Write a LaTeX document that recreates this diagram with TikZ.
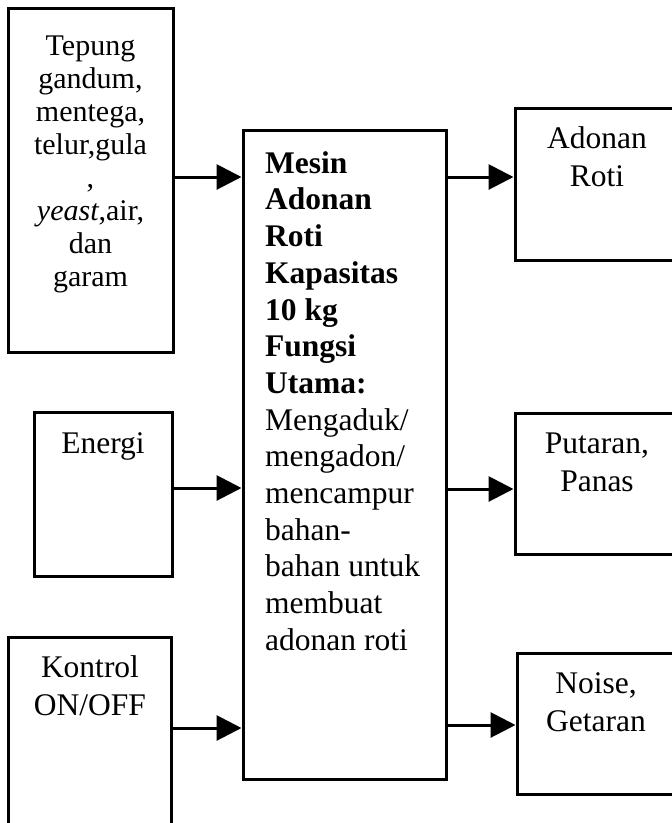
\documentclass[tikz,border=0pt]{standalone}
\usepackage{fontspec}
\setmainfont{Liberation Serif}
\usetikzlibrary{arrows.meta}
\begin{document}
\begin{tikzpicture}[x=1pt,y=-1pt,
  boxw/.style 2 args={draw, line width=3pt, inner sep=0pt, minimum width=#1, minimum height=#2},
  lbl/.style={inner sep=0pt, anchor=north, align=center},
  fA/.style={font=\fontsize{30}{33}\selectfont},
  fB/.style={font=\fontsize{31.5}{38}\selectfont},
  fC/.style={font=\fontsize{31.5}{36.7}\selectfont},
  arr/.style={line width=3pt, -{Triangle[length=25pt,width=25pt]}}]
\useasboundingbox (0,0) rectangle (672,823);
\fill[white] (0,0) rectangle (672,823);
\clip (0,0) rectangle (672,823);
% boxes
\node[boxw={165pt}{344pt}] (L1) at (90.5,180) {};
\node[boxw={138pt}{164pt}] (E) at (103,494) {};
\node[boxw={163pt}{203pt}] (K) at (89.5,738.5) {};
\node[boxw={203pt}{649pt}] (C) at (344.5,454.5) {};
\node[boxw={170pt}{152pt}] (R1) at (600,184) {};
\node[boxw={170pt}{141pt}] (R2) at (600,483.5) {};
\node[boxw={168pt}{141pt}] (R3) at (601,723.5) {};
% texts
\node[lbl,fA] (tL1) at (90.5,31.9) {\strut Tepung\\gandum,\\mentega,\\telur,gula\\,\\\emph{yeast},air,\\dan\\garam};
\node[lbl,fB] (tE) at (103,426.4) {\strut Energi};
\node[lbl,fB] (tK) at (90,650.4) {\strut Kontrol\\ON/OFF};
\node[inner sep=0pt, anchor=north west, align=left, fC] (tC) at (265,147.3) {\strut\textbf{Mesin}\\\textbf{Adonan}\\\textbf{Roti}\\\textbf{Kapasitas}\\\textbf{10 kg}\\\textbf{Fungsi}\\\textbf{Utama:}\\Mengaduk/\\mengadon/\\mencampur\\bahan-\\bahan untuk\\membuat\\adonan roti};
\node[lbl,fB] (tR1) at (597,121.4) {\strut Adonan\\Roti};
\node[lbl,fB] (tR2) at (597,426.4) {\strut Putaran,\\Panas};
\node[lbl,fB] (tR3) at (596,666.4) {\strut Noise,\\Getaran};
% connectors
\draw[arr] (L1.east |- 0,177) -- (C.west |- 0,177);
\draw[arr] (E.east |- 0,488) -- (C.west |- 0,488);
\draw[arr] (K.east |- 0,728) -- (C.west |- 0,728);
\draw[arr] (C.east |- 0,177) -- (R1.west |- 0,177);
\draw[arr] (C.east |- 0,489) -- (R2.west |- 0,489);
\draw[arr] (C.east |- 0,725) -- (R3.west |- 0,725);
\end{tikzpicture}
\end{document}
